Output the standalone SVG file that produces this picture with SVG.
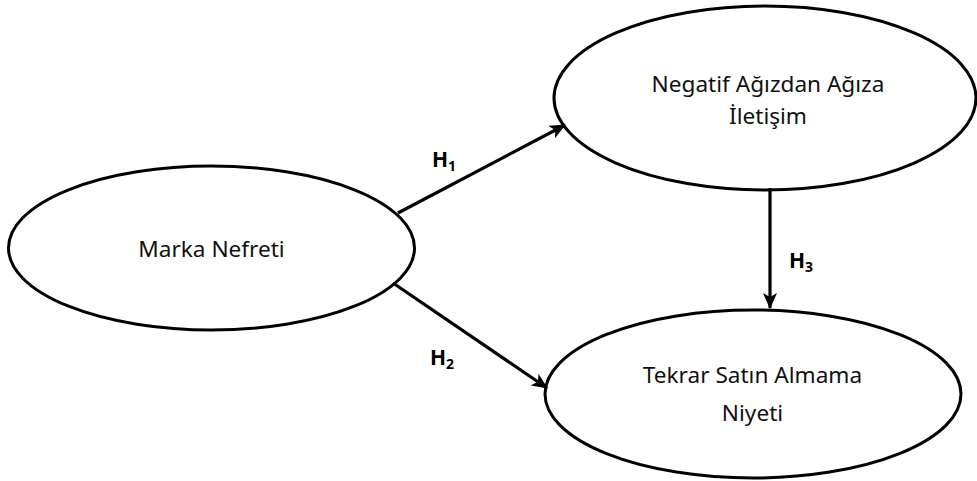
<svg xmlns="http://www.w3.org/2000/svg" width="977" height="481" viewBox="0 0 977 481">
<style>
.node ellipse{fill:#fff;stroke:#000;stroke-width:3}
.lbl{font-family:"Noto Sans","Open Sans",sans-serif;font-size:22.6px;fill:#111;text-anchor:middle}
.h{font-family:"Noto Sans","Open Sans",sans-serif;font-size:21px;font-weight:bold;fill:#000}
.sub{font-size:14px}
.conn line{stroke:#000;stroke-width:3.2;fill:none;marker-end:url(#arr)}
</style>
<defs>
<marker id="arr" markerUnits="userSpaceOnUse" markerWidth="16" markerHeight="14" viewBox="0 0 16 14" refX="15" refY="7" orient="auto">
<path d="M0,0 L16,7 L0,14 L4,7 z" fill="#000"/>
</marker>
</defs>
<rect width="977" height="481" fill="#fff"/>
<g id="marka-nefreti" class="node">
<ellipse cx="211.5" cy="248" rx="203" ry="82"/>
<text class="lbl" x="211.5" y="257">Marka Nefreti</text>
</g>
<g id="negatif-agizdan" class="node">
<ellipse cx="765" cy="98" rx="211" ry="92"/>
<text class="lbl" x="768" y="92">Negatif Ağızdan Ağıza</text>
<text class="lbl" x="768" y="124">İletişim</text>
</g>
<g id="tekrar-satin" class="node">
<ellipse cx="753" cy="394" rx="208" ry="84"/>
<text class="lbl" x="752.5" y="383">Tekrar Satın Almama</text>
<text class="lbl" x="752.5" y="421">Niyeti</text>
</g>
<g id="connectors" class="conn">
<line x1="398" y1="213" x2="565" y2="125"/>
<line x1="393" y1="283" x2="547" y2="388"/>
<line x1="770" y1="188" x2="770" y2="308"/>
</g>
<g id="labels">
<text class="h" x="432" y="167">H<tspan class="sub" dy="4">1</tspan></text>
<text class="h" x="430" y="365">H<tspan class="sub" dy="4">2</tspan></text>
<text class="h" x="789" y="268">H<tspan class="sub" dy="4">3</tspan></text>
</g>
</svg>
